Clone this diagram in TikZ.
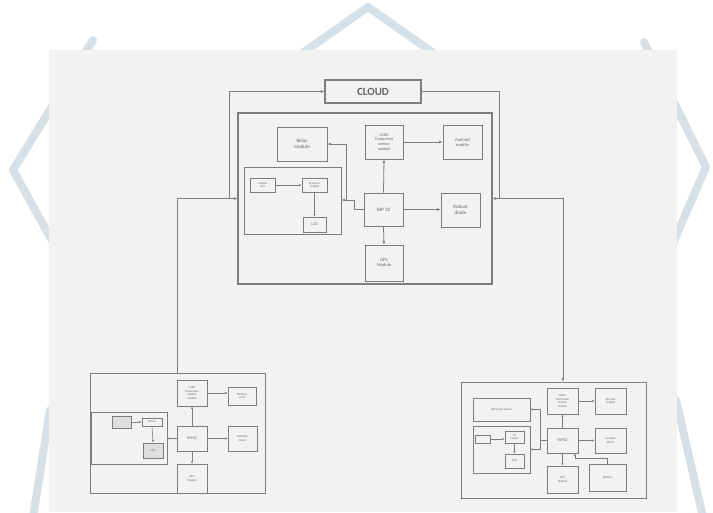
\documentclass[tikz,border=0pt]{standalone}
\usepackage{fontspec}
\setmainfont{Carlito}
\usetikzlibrary{arrows.meta,calc}
\definecolor{wmc}{RGB}{214,224,231}
\definecolor{panelc}{RGB}{242,242,242}
\definecolor{linec}{RGB}{125,125,125}
\definecolor{textc}{RGB}{100,100,100}
\definecolor{darkfill}{RGB}{222,222,222}
\tikzset{
  wm/.style={draw=wmc,line width=8pt,line join=round,line cap=round},
  box/.style={draw=linec,line width=0.9pt,fill=panelc,text=textc,align=center,inner sep=0pt,font=\fontsize{5}{5.6}\selectfont},
  sbox/.style={box,line width=0.7pt,font=\fontsize{3}{3.5}\selectfont},
  panelbox/.style={draw=linec,line width=1.2pt,fill=panelc,inner sep=0pt},
  conn/.style={draw=linec,line width=0.8pt},
  arr/.style={conn,-{Latex[length=3.5pt,width=3pt]}},
  sarr/.style={draw=linec,line width=0.6pt,-{Latex[length=2.5pt,width=2.2pt]}},
  sconn/.style={draw=linec,line width=0.6pt}
}
\begin{document}
\begin{tikzpicture}[x=1pt,y=-1pt]
\useasboundingbox (0,0) rectangle (713,512);
\fill[white] (0,0) rectangle (713,512);
% watermark
\draw[wm] (250,90) -- (368,7) -- (486,90);
\draw[wm] (93,40) -- (13,170) -- (60,255);
\draw[wm] (644,42) -- (706,167) -- (670,250);
\draw[wm] (50,410) -- (33,517);
\draw[wm] (676,400) -- (703,517);
% background panel
\fill[panelc] (49,50) rectangle (677,512);

% ---------- top system ----------
\node[box,line width=1.1pt,minimum width=96pt,minimum height=23pt,font=\fontsize{11}{12}\selectfont\bfseries] (cloud) at (373,91.5) {CLOUD};
\node[panelbox,minimum width=254pt,minimum height=171pt] (top) at (365,198.5) {};
\node[box,minimum width=50pt,minimum height=34pt] (relay) at (302,144) {Relay\\module};
\node[box,minimum width=38pt,minimum height=34pt,font=\fontsize{4}{4.6}\selectfont] (lora) at (384,142) {LORA\\Transceiver\\section\\module};
\node[box,minimum width=39pt,minimum height=34pt,font=\fontsize{4.5}{5}\selectfont] (disp) at (462.5,142) {Android\\mobile};
\node[box,minimum width=39pt,minimum height=33pt] (esp) at (383.5,209.5) {ESP 32};
\node[box,minimum width=39pt,minimum height=34pt] (robust) at (460.5,210) {Robust\\diode};
\node[box,minimum width=38pt,minimum height=36pt,font=\fontsize{4.5}{5}\selectfont] (gps) at (384,263) {GPS\\Module};
\node[box,minimum width=97pt,minimum height=67pt] (sub) at (292.5,200.5) {};
\node[sbox,minimum width=25pt,minimum height=14pt] (cam) at (262.5,185) {Camera\\unit};
\node[sbox,minimum width=25pt,minimum height=14pt] (sens) at (314.5,185) {IR sensor\\module};
\node[sbox,minimum width=23pt,minimum height=15pt,font=\fontsize{4}{4.5}\selectfont] (lcd) at (314.5,224.5) {LCD};

\draw[arr] (esp.north) -- (lora.south);
\draw[arr] (lora.east) -- (disp.west);
\draw[arr] (esp.east) -- (esp.east -| robust.west);
\draw[arr] (esp.south) -- (gps.north);
\draw[sarr] (cam.east) -- (sens.west);
\draw[sarr] (sens.south) -- (lcd.north);
\coordinate (j0) at (354,209.5);
\coordinate (j1) at (354,200);
\coordinate (j2) at (346,200);
\draw[conn] (esp.west) -- (j0) -- (j1);
\draw[arr] (j1) -- (j1 -| sub.east);
\draw[arr] (j2) |- (relay.east);

% cloud links
\coordinate (L1) at (229,198.5);
\draw[arr] (L1) |- (cloud.west);
\coordinate (R1) at (499,198.5);
\coordinate (R2) at (563,198.5);
\draw[conn] (cloud.east) -| (R1);
\draw[arr] (R1) -- (top.east);

% ---------- bottom-left system ----------
\node[panelbox,line width=1pt,minimum width=175pt,minimum height=120pt] (bl) at (177.5,433) {};
\node[sbox,minimum width=30pt,minimum height=26pt] (blLora) at (192,393) {LORA\\Transceiver\\section\\module};
\node[sbox,minimum width=28pt,minimum height=18pt] (blMem) at (242,396) {Memory\\card};
\node[sbox,minimum width=76pt,minimum height=52pt] (blSub) at (129,438) {};
\node[sbox,fill=darkfill,minimum width=19pt,minimum height=12pt] (blA) at (121.5,422) {};
\node[sbox,minimum width=20pt,minimum height=8pt] (blB) at (152,422) {Sensor};
\node[sbox,fill=darkfill,minimum width=20pt,minimum height=15pt] (blLcd) at (153,450.5) {LCD};
\node[sbox,minimum width=30pt,minimum height=25pt,font=\fontsize{4}{4.5}\selectfont] (blEsp) at (192,438.5) {ESP32};
\node[sbox,minimum width=29pt,minimum height=25pt] (blAct) at (242.5,438.5) {Actuator\\Driver};
\node[sbox,minimum width=30pt,minimum height=29pt] (blGps) at (192,478.5) {GPS\\Module};
\draw[sarr] (blEsp.north) -- (blLora.south);
\draw[sarr] (blLora.east) -- (blLora.east -| blMem.west);
\draw[sarr] (blEsp.east) -- (blAct.west);
\draw[sarr] (blEsp.south) -- (blGps.north);
\draw[sarr] (blEsp.west) -- (blSub.east |- blEsp.west);
\draw[sarr] (blA.east) -- (blB.west);
\draw[sarr] (blB.south) -- (blLcd.north);
\draw[arr] (bl.north) |- (top.west);

% ---------- bottom-right system ----------
\node[panelbox,line width=1pt,minimum width=185pt,minimum height=116pt] (br) at (553.5,440) {};
\node[sbox,minimum width=31pt,minimum height=26pt] (brLora) at (562.5,401) {LORA\\Transceiver\\section\\module};
\node[sbox,minimum width=31pt,minimum height=26pt] (brMem) at (610.5,401) {SD card\\module};
\node[sbox,minimum width=57pt,minimum height=23pt] (brUs) at (501.5,409.5) {Ultrasonic sensor};
\node[sbox,minimum width=57pt,minimum height=47pt] (brSub) at (501.5,449.5) {};
\node[sbox,minimum width=15pt,minimum height=8pt] (brA) at (482.5,439) {};
\node[sbox,minimum width=19pt,minimum height=12pt] (brB) at (514.5,437) {IR\\Sensor};
\node[sbox,minimum width=19pt,minimum height=14pt] (brLcd) at (514.5,461) {LCD};
\node[sbox,minimum width=31pt,minimum height=25pt,font=\fontsize{4}{4.5}\selectfont] (brEsp) at (562.5,440.5) {ESP32};
\node[sbox,minimum width=31pt,minimum height=25pt] (brAct) at (610.5,440.5) {Actuator\\Driver};
\node[sbox,minimum width=31pt,minimum height=27pt] (brGps) at (562.5,479.5) {GPS\\Module};
\node[sbox,minimum width=37pt,minimum height=27pt] (brBat) at (607.5,477.5) {Battery};
\draw[sarr] (brEsp.north) -- (brLora.south);
\draw[sarr] (brLora.east) -- (brMem.west);
\draw[sarr] (brEsp.east) -- (brAct.west);
\draw[sarr] (brEsp.south) -- (brGps.north);
\coordinate (bj) at (575,458);
\draw[sarr] (brBat.north) |- (bj) -- (bj |- brEsp.south);
\coordinate (rj) at (540,440.5);
\draw[sconn] (brEsp.west) -- (rj);
\draw[sarr] (rj) |- (brUs.east);
\draw[sarr] (rj) |- (brSub.east);
\draw[sarr] (brA.east) -- (brA.east -| brB.west);
\draw[sarr] (brB.south) -- (brLcd.north);
\draw[arr] (R1) -- (R2) -- (R2 |- br.north);
\end{tikzpicture}
\end{document}
